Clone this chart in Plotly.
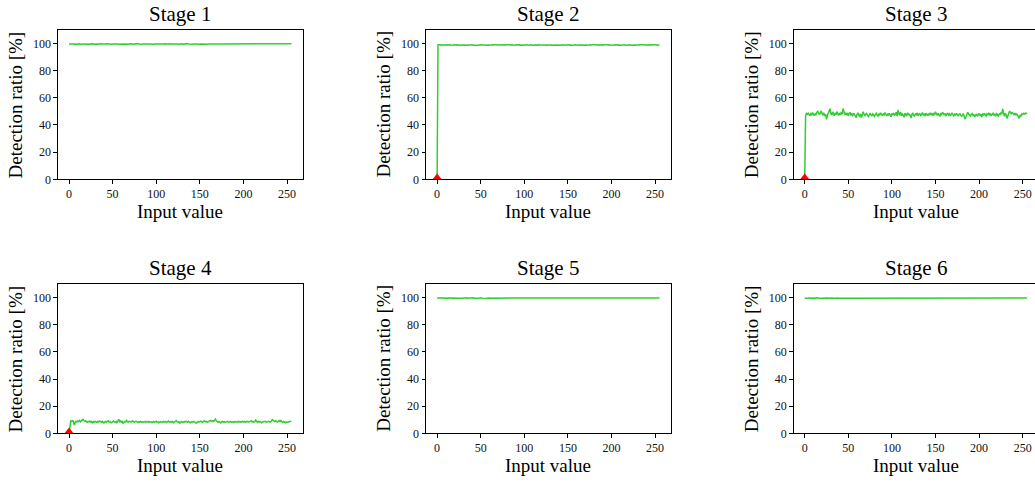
import plotly.graph_objects as go

input_values = list(range(256))
stage_titles = ["Stage 1", "Stage 2", "Stage 3", "Stage 4", "Stage 5", "Stage 6"]
x_ticks = [0, 50, 100, 150, 200, 250]
y_ticks = [0, 20, 40, 60, 80, 100]
x_label = "Input value"
y_label = "Detection ratio [%]"

stage1 = [
    99.5, 99.6, 99.4, 99.5, 99.7, 99.5, 99.3, 99.6, 99.5, 99.4, 99.6, 99.5, 99.7, 99.4, 99.5, 99.6,
    99.4, 99.5, 99.6, 99.3, 99.5, 99.7, 99.5, 99.4, 99.6, 99.5, 99.5, 99.8, 99.4, 99.5, 99.6, 99.4,
    99.5, 99.3, 99.6, 99.5, 99.7, 99.5, 99.4, 99.6, 99.5, 99.4, 99.5, 99.7, 99.6, 99.4, 99.5, 99.5,
    99.6, 99.3, 99.5, 99.6, 99.4, 99.5, 99.7, 99.5, 99.6, 99.4, 99.5, 99.5, 99.6, 99.4, 99.7, 99.5,
    99.4, 99.6, 99.5, 99.3, 99.5, 99.6, 99.5, 99.7, 99.4, 99.5, 99.6, 99.5, 99.4, 99.6, 99.5, 99.8,
    99.5, 99.4, 99.6, 99.5, 99.3, 99.6, 99.5, 99.7, 99.5, 99.4, 99.5, 99.6, 99.5, 99.4, 99.7, 99.5,
    99.6, 99.4, 99.5, 99.6, 99.5, 99.3, 99.5, 99.7, 99.6, 99.5, 99.4, 99.6, 99.5, 99.5, 99.7, 99.4,
    99.5, 99.6, 99.4, 99.5, 99.7, 99.5, 99.6, 99.4, 99.5, 99.3, 99.6, 99.5, 99.7, 99.5, 99.4, 99.6,
    99.5, 99.7, 99.4, 99.5, 99.6, 99.5, 99.4, 99.6, 99.8, 99.5, 99.4, 99.5, 99.6, 99.5, 99.3, 99.6,
    99.5, 99.4, 99.6, 99.7, 99.5, 99.5, 99.4, 99.6, 99.5, 99.7, 99.4, 99.5, 99.6, 99.5, 99.4, 99.6,
    99.7, 99.5, 99.4, 99.6, 99.5, 99.3, 99.5, 99.6, 99.5, 99.7, 99.5, 99.4, 99.6, 99.5, 99.5, 99.7,
    99.4, 99.6, 99.5, 99.5, 99.7, 99.4, 99.5, 99.6, 99.5, 99.4, 99.6, 99.8, 99.5, 99.4, 99.5, 99.6,
    99.5, 99.7, 99.5, 99.4, 99.6, 99.5, 99.5, 99.7, 99.4, 99.5, 99.6, 99.5, 99.3, 99.6, 99.5, 99.7,
    99.5, 99.4, 99.6, 99.5, 99.7, 99.5, 99.6, 99.4, 99.5, 99.6, 99.5, 99.7, 99.4, 99.5, 99.6, 99.5,
    99.4, 99.6, 99.5, 99.7, 99.5, 99.4, 99.6, 99.5, 99.5, 99.7, 99.4, 99.6, 99.5, 99.4, 99.6, 99.5,
    99.7, 99.5, 99.4, 99.6, 99.5, 99.6, 99.4, 99.5, 99.7, 99.5, 99.6, 99.4, 99.5, 99.6, 99.5, 99.8,
]

stage2 = [
    0.0, 98.9, 99.1, 98.8, 98.7, 99.0, 98.8, 98.9, 98.6, 98.8, 99.0, 98.7, 98.9, 98.8, 98.6, 98.9,
    98.8, 99.0, 98.7, 98.8, 98.9, 98.6, 98.8, 99.0, 98.7, 98.9, 98.8, 98.5, 98.8, 98.9, 98.7, 99.0,
    98.8, 98.6, 98.9, 98.8, 98.7, 99.0, 98.8, 98.9, 98.6, 98.8, 98.7, 98.9, 98.8, 98.5, 98.7, 98.9,
    99.1, 99.3, 99.0, 98.8, 98.9, 98.7, 98.8, 99.0, 98.8, 98.6, 98.9, 98.8, 98.7, 99.0, 98.8, 98.9,
    98.7, 98.8, 99.0, 98.8, 98.6, 98.9, 98.8, 98.7, 98.9, 98.8, 99.0, 98.7, 98.8, 98.9, 98.6, 98.8,
    99.0, 98.8, 98.7, 98.9, 98.8, 98.6, 98.9, 98.8, 99.0, 98.7, 98.8, 98.9, 98.8, 98.6, 98.8, 99.0,
    98.7, 98.9, 98.8, 98.7, 99.0, 98.8, 98.9, 98.6, 98.8, 98.7, 98.9, 98.8, 99.0, 98.7, 98.8, 98.9,
    98.8, 98.6, 98.9, 98.8, 98.7, 99.1, 98.8, 98.9, 98.7, 98.8, 99.0, 98.8, 98.6, 98.9, 98.8, 98.7,
    98.9, 98.8, 99.0, 98.7, 98.8, 98.9, 98.6, 98.8, 99.0, 98.8, 98.7, 98.9, 98.8, 98.6, 98.9, 98.8,
    99.0, 98.7, 98.8, 98.9, 98.8, 98.6, 98.8, 99.0, 98.7, 98.9, 98.8, 98.7, 99.0, 98.8, 98.9, 98.6,
    98.8, 98.7, 98.9, 98.8, 99.0, 98.7, 98.8, 98.9, 98.8, 98.6, 98.9, 98.8, 98.7, 99.0, 98.8, 98.9,
    98.7, 98.8, 99.0, 98.8, 98.6, 98.9, 98.8, 98.7, 98.9, 98.8, 99.0, 98.7, 98.8, 98.9, 98.6, 98.8,
    99.0, 98.8, 98.7, 98.9, 98.8, 98.6, 98.9, 98.8, 99.0, 98.7, 98.8, 98.9, 98.8, 98.6, 98.8, 99.0,
    98.7, 98.9, 98.8, 98.7, 99.0, 98.8, 98.9, 98.6, 98.8, 98.7, 98.9, 98.8, 99.0, 98.7, 98.8, 98.9,
    98.8, 98.6, 98.9, 98.8, 98.7, 99.0, 98.8, 98.9, 98.7, 98.8, 99.0, 98.8, 98.6, 98.9, 98.8, 98.7,
    98.9, 98.8, 99.0, 98.7, 98.8, 98.9, 98.6, 98.8, 99.0, 98.8, 98.7, 98.9, 98.8, 98.7, 98.9, 98.8,
]

stage3 = [
    0.0, 46.5, 48.8, 47.9, 48.6, 47.2, 46.8, 48.3, 47.5, 49.1, 47.8, 46.9, 48.2, 47.4, 49.5, 50.1,
    48.7, 47.6, 49.2, 50.3, 48.5, 47.1, 48.9, 46.5, 47.8, 44.2, 46.9, 48.6, 50.8, 52.0, 48.3, 47.2,
    49.6, 48.1, 46.7, 48.9, 47.5, 49.8, 48.2, 47.0, 48.8, 47.3, 49.5, 48.0, 52.1, 49.4, 47.6, 48.5,
    47.2, 48.9, 46.8, 48.1, 49.3, 47.4, 48.0, 46.5, 48.7, 47.9, 46.2, 45.3, 47.8, 48.9, 47.1, 46.4,
    48.2, 45.5, 47.3, 49.7, 48.1, 46.6, 47.9, 48.4, 47.0, 46.2, 47.5, 48.8, 47.3, 46.9, 48.1, 47.5,
    46.4, 47.8, 48.6, 47.2, 46.5, 48.3, 47.1, 48.9, 47.6, 46.8, 48.0, 47.4, 49.2, 47.9, 46.6, 48.3,
    47.0, 48.5, 47.3, 46.1, 48.4, 47.7, 48.9, 46.9, 47.8, 49.5, 46.5, 51.0, 48.3, 47.2, 49.6, 46.8,
    48.1, 47.4, 45.6, 48.7, 47.5, 46.9, 49.0, 47.3, 48.2, 46.4, 45.2, 47.9, 48.6, 47.0, 46.3, 48.4,
    47.6, 48.9, 46.7, 47.8, 48.3, 46.9, 47.5, 49.1, 47.2, 48.0, 46.5, 48.6, 47.9, 46.8, 48.4, 47.3,
    49.0, 47.6, 48.2, 46.9, 48.8, 47.4, 49.7, 48.1, 47.0, 48.6, 47.5, 46.3, 48.2, 47.7, 49.4, 48.0,
    47.2, 48.5, 46.6, 47.9, 48.8, 47.3, 48.1, 46.7, 47.8, 48.9, 47.5, 46.4, 48.0, 47.3, 48.6, 47.0,
    46.5, 47.9, 48.3, 47.1, 46.2, 47.6, 48.0, 45.8, 44.3, 46.2, 48.5, 49.3, 48.0, 47.2, 46.5, 47.8,
    48.4, 46.9, 47.5, 45.9, 47.2, 48.1, 46.4, 47.7, 48.5, 46.8, 47.9, 45.6, 48.3, 47.0, 48.7, 47.4,
    46.6, 48.2, 47.5, 48.9, 47.1, 48.4, 46.7, 47.8, 48.6, 47.0, 48.1, 46.4, 48.8, 47.3, 46.5, 48.0,
    47.6, 49.1, 48.0, 51.8, 47.2, 46.3, 48.6, 47.5, 44.8, 47.9, 48.7, 50.2, 49.1, 48.0, 49.5, 48.3,
    47.6, 48.8, 47.1, 48.4, 46.9, 45.5, 44.9, 47.3, 46.4, 48.2, 47.8, 48.6, 47.9, 48.7, 48.3, 48.8,
]

stage4 = [
    0.0, 7.6, 9.2, 8.9, 9.4, 9.1, 6.2, 7.8, 8.9, 8.4, 9.2, 8.8, 9.5, 8.6, 9.1, 9.6,
    10.3, 9.5, 8.9, 9.4, 8.7, 8.2, 8.9, 8.5, 9.1, 8.3, 8.8, 7.9, 8.6, 8.2, 9.0, 8.5,
    8.1, 8.8, 8.4, 9.2, 8.7, 8.3, 8.9, 8.6, 7.8, 8.5, 8.9, 8.3, 8.7, 9.3, 8.4, 8.8,
    8.2, 7.9, 8.6, 9.1, 8.5, 8.1, 8.7, 7.7, 9.3, 10.4, 8.6, 9.2, 8.3, 8.8, 7.6, 8.4,
    8.9, 8.5, 9.6, 8.7, 8.3, 9.1, 8.8, 8.4, 8.9, 9.3, 8.6, 8.2, 8.8, 9.0, 8.5, 8.1,
    8.7, 8.4, 8.9, 8.3, 8.6, 8.1, 8.5, 8.8, 8.2, 8.6, 8.9, 8.4, 8.7, 8.3, 8.5, 8.0,
    8.4, 8.8, 8.2, 8.6, 9.0, 8.3, 8.5, 7.9, 8.4, 8.7, 8.2, 8.6, 8.9, 8.3, 8.5, 8.8,
    8.1, 8.6, 9.2, 8.4, 8.7, 8.2, 8.8, 8.5, 7.8, 8.3, 8.9, 9.4, 8.6, 8.2, 8.7, 7.6,
    8.3, 8.9, 8.5, 8.1, 8.7, 8.4, 9.0, 8.6, 8.2, 8.8, 8.5, 7.9, 8.4, 8.7, 8.3, 8.9,
    8.6, 8.2, 7.5, 8.4, 8.8, 8.3, 8.6, 9.1, 8.5, 8.2, 8.7, 9.3, 8.9, 8.4, 8.8, 8.3,
    8.7, 9.1, 9.6, 9.2, 8.8, 9.4, 8.9, 9.7, 10.5, 9.3, 8.7, 8.2, 8.8, 8.4, 7.7, 8.5,
    8.9, 8.3, 8.7, 8.1, 8.6, 8.4, 8.9, 8.2, 8.5, 8.8, 8.3, 8.6, 8.1, 8.7, 8.4, 8.8,
    8.5, 8.2, 8.9, 8.4, 8.7, 8.3, 8.6, 9.0, 8.4, 8.7, 8.2, 8.8, 8.5, 8.9, 8.3, 8.6,
    8.8, 9.4, 8.5, 8.9, 8.3, 8.7, 9.8, 8.6, 8.2, 8.9, 8.4, 8.8, 8.3, 7.9, 8.5, 8.6,
    8.4, 8.9, 8.3, 8.7, 8.5, 9.0, 8.6, 8.4, 9.2, 10.2, 9.6, 9.1, 8.7, 9.3, 8.8, 8.4,
    8.9, 9.5, 8.7, 9.8, 8.6, 8.2, 8.8, 8.4, 7.9, 8.5, 8.3, 8.1, 8.6, 8.7, 8.9, 8.9,
]

stage5 = [
    99.6, 99.5, 99.5, 99.4, 99.6, 99.7, 99.5, 99.4, 99.5, 99.6, 99.5, 99.3, 99.6, 99.5, 99.7, 99.5,
    99.5, 99.4, 99.6, 99.5, 99.7, 99.5, 99.4, 99.6, 99.5, 99.5, 99.7, 99.4, 99.5, 99.6, 99.5, 99.4,
    99.6, 99.5, 99.7, 99.4, 99.5, 99.6, 99.5, 99.5, 99.4, 99.7, 99.5, 99.6, 99.4, 99.5, 99.6, 99.5,
    99.4, 99.6, 99.5, 99.7, 99.5, 99.4, 99.5, 99.6, 99.5, 99.3, 99.6, 99.5, 99.7, 99.5, 99.4, 99.6,
    99.5, 99.5, 99.7, 99.4, 99.6, 99.5, 99.5, 99.6, 99.4, 99.5, 99.7, 99.5, 99.6, 99.4, 99.5, 99.6,
    99.7, 99.5, 99.4, 99.5, 99.6, 99.5, 99.7, 99.4, 99.5, 99.6, 99.5, 99.5, 99.4, 99.6, 99.5, 99.7,
    99.5, 99.6, 99.4, 99.5, 99.5, 99.7, 99.5, 99.4, 99.6, 99.5, 99.6, 99.4, 99.5, 99.7, 99.5, 99.5,
    99.6, 99.4, 99.5, 99.6, 99.5, 99.7, 99.4, 99.5, 99.6, 99.5, 99.5, 99.7, 99.4, 99.6, 99.5, 99.5,
    99.4, 99.6, 99.5, 99.7, 99.5, 99.5, 99.6, 99.4, 99.5, 99.6, 99.7, 99.5, 99.4, 99.5, 99.6, 99.5,
    99.5, 99.7, 99.4, 99.6, 99.5, 99.5, 99.4, 99.6, 99.7, 99.5, 99.5, 99.4, 99.6, 99.5, 99.7, 99.5,
    99.4, 99.5, 99.6, 99.5, 99.7, 99.4, 99.5, 99.6, 99.5, 99.5, 99.4, 99.7, 99.5, 99.6, 99.4, 99.5,
    99.6, 99.5, 99.7, 99.5, 99.4, 99.6, 99.5, 99.5, 99.7, 99.4, 99.5, 99.6, 99.5, 99.4, 99.6, 99.5,
    99.5, 99.7, 99.4, 99.5, 99.6, 99.5, 99.5, 99.4, 99.7, 99.5, 99.6, 99.4, 99.5, 99.6, 99.5, 99.7,
    99.4, 99.5, 99.6, 99.5, 99.5, 99.7, 99.4, 99.6, 99.5, 99.5, 99.4, 99.6, 99.7, 99.5, 99.4, 99.5,
    99.6, 99.5, 99.5, 99.7, 99.4, 99.5, 99.6, 99.5, 99.4, 99.6, 99.5, 99.7, 99.5, 99.4, 99.5, 99.6,
    99.5, 99.4, 99.6, 99.5, 99.7, 99.5, 99.5, 99.4, 99.6, 99.5, 99.7, 99.4, 99.5, 99.6, 99.5, 99.6,
]

stage6 = [
    99.5, 99.4, 99.6, 99.5, 99.5, 99.7, 99.4, 99.5, 99.6, 99.5, 99.4, 99.6, 99.5, 99.7, 99.5, 99.4,
    99.6, 99.5, 99.4, 99.7, 99.5, 99.5, 99.6, 99.4, 99.5, 99.6, 99.5, 99.7, 99.4, 99.5, 99.5, 99.6,
    99.4, 99.6, 99.5, 99.5, 99.7, 99.4, 99.6, 99.5, 99.5, 99.4, 99.6, 99.7, 99.5, 99.4, 99.5, 99.6,
    99.5, 99.7, 99.4, 99.5, 99.6, 99.5, 99.4, 99.6, 99.5, 99.7, 99.5, 99.4, 99.6, 99.5, 99.5, 99.4,
    99.6, 99.5, 99.7, 99.5, 99.4, 99.5, 99.6, 99.5, 99.5, 99.7, 99.4, 99.6, 99.5, 99.5, 99.4, 99.6,
    99.5, 99.5, 99.6, 99.4, 99.7, 99.5, 99.5, 99.6, 99.4, 99.5, 99.6, 99.5, 99.7, 99.4, 99.5, 99.6,
    99.4, 99.5, 99.6, 99.5, 99.5, 99.7, 99.4, 99.5, 99.6, 99.5, 99.4, 99.6, 99.5, 99.7, 99.5, 99.5,
    99.6, 99.4, 99.5, 99.7, 99.5, 99.5, 99.6, 99.4, 99.5, 99.6, 99.5, 99.4, 99.7, 99.5, 99.6, 99.5,
    99.5, 99.4, 99.6, 99.5, 99.7, 99.5, 99.4, 99.6, 99.5, 99.5, 99.6, 99.4, 99.5, 99.7, 99.5, 99.6,
    99.4, 99.5, 99.6, 99.5, 99.5, 99.7, 99.4, 99.5, 99.6, 99.5, 99.4, 99.6, 99.5, 99.5, 99.7, 99.4,
    99.5, 99.6, 99.5, 99.7, 99.4, 99.5, 99.6, 99.5, 99.5, 99.4, 99.6, 99.7, 99.5, 99.5, 99.4, 99.6,
    99.5, 99.5, 99.7, 99.4, 99.6, 99.5, 99.5, 99.4, 99.6, 99.5, 99.7, 99.5, 99.4, 99.6, 99.5, 99.5,
    99.6, 99.4, 99.5, 99.7, 99.5, 99.5, 99.6, 99.4, 99.5, 99.6, 99.5, 99.7, 99.4, 99.5, 99.6, 99.5,
    99.5, 99.7, 99.4, 99.5, 99.6, 99.5, 99.4, 99.6, 99.5, 99.5, 99.7, 99.4, 99.6, 99.5, 99.5, 99.4,
    99.6, 99.5, 99.5, 99.7, 99.4, 99.5, 99.6, 99.5, 99.4, 99.6, 99.5, 99.7, 99.5, 99.5, 99.4, 99.6,
    99.5, 99.4, 99.6, 99.5, 99.7, 99.5, 99.4, 99.5, 99.6, 99.5, 99.5, 99.7, 99.4, 99.6, 99.5, 99.6,
]

# stages where a failure marker is drawn at input value 0 (ratio 0)
failure_stages = [2, 3, 4]
failure_x = [0]
failure_y = [0]

series = [stage1, stage2, stage3, stage4, stage5, stage6]

W, H = 1035, 486
FONT = "Liberation Serif"
GREEN = "#32CD32"

# plot-area geometry in pixels (measured on the target image)
col_left = [57.9, 426.0, 793.6]
plot_w = 244.6
row_top = [30.2, 288.0]
plot_h = 151.8

fig = go.Figure()
annotations = []

for i, (title, ys) in enumerate(zip(stage_titles, series)):
    r, c = divmod(i, 3)
    n = i + 1
    xa = "x" if n == 1 else f"x{n}"
    ya = "y" if n == 1 else f"y{n}"
    left = col_left[c]
    right = min(left + plot_w, W)
    top = row_top[r]
    bottom = top + plot_h
    xdom = [left / W, right / W]
    ydom = [1 - bottom / H, 1 - top / H]
    x_lo = -12.75
    x_hi = x_lo + (right - left) / plot_w * 280.5

    fig.add_trace(go.Scatter(
        x=input_values, y=ys, mode="lines", xaxis=xa, yaxis=ya,
        line=dict(color=GREEN, width=1.5), showlegend=False, hoverinfo="skip"))
    if n in failure_stages:
        fig.add_trace(go.Scatter(
            x=failure_x, y=failure_y, mode="markers", xaxis=xa, yaxis=ya,
            marker=dict(symbol="triangle-up", color="red", size=12, line=dict(width=0)),
            cliponaxis=True, showlegend=False, hoverinfo="skip"))

    cut = right < left + plot_w - 0.5
    axis_common = dict(
        showline=True, linecolor="black", linewidth=1, showgrid=False, zeroline=False,
        ticks="outside", ticklen=3.5, tickwidth=0.8, tickcolor="black",
        tickfont=dict(family=FONT, size=12, color="#111"))
    fig.update_layout(**{
        ("xaxis" if n == 1 else f"xaxis{n}"): dict(
            axis_common, domain=xdom, anchor=ya, range=[x_lo, x_hi],
            tickmode="array", tickvals=x_ticks, mirror=True, fixedrange=True),
        ("yaxis" if n == 1 else f"yaxis{n}"): dict(
            axis_common, domain=ydom, anchor=xa, range=[0, 110],
            tickmode="array", tickvals=y_ticks, mirror=not cut, fixedrange=True),
    })

    cx = (left + left + plot_w) / 2
    annotations.append(dict(
        text=title, x=cx / W, y=1 - top / H, xref="paper", yref="paper",
        xanchor="center", yanchor="bottom", yshift=2, showarrow=False,
        font=dict(family=FONT, size=21, color="black")))
    annotations.append(dict(
        text=x_label, x=cx / W, y=1 - bottom / H, xref="paper", yref="paper",
        xanchor="center", yanchor="top", yshift=-20, showarrow=False,
        font=dict(family=FONT, size=19, color="black")))
    annotations.append(dict(
        text=y_label, x=(left - 42) / W, y=1 - (top + bottom) / 2 / H,
        xref="paper", yref="paper", xanchor="center", yanchor="middle",
        textangle=-90, showarrow=False,
        font=dict(family=FONT, size=19, color="black")))

fig.update_layout(
    width=W, height=H, margin=dict(l=0, r=0, t=0, b=0),
    paper_bgcolor="white", plot_bgcolor="white",
    annotations=annotations, showlegend=False)

fig.write_html(
    "out.html",
    config={"displayModeBar": False},
    post_script="document.body.style.margin='0';document.body.style.overflow='hidden';")
